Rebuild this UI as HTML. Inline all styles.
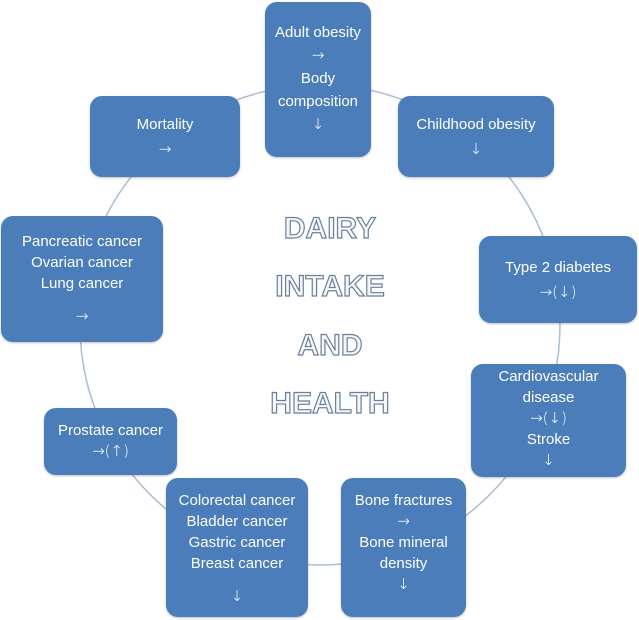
<!DOCTYPE html>
<html><head><style>
body{margin:0;width:639px;height:620px;background:#fff;position:relative;overflow:hidden;font-family:"Liberation Sans",Arial,sans-serif}
.b{position:absolute;background:#4a7dba;border-radius:12px;color:#fff;font-size:15px;line-height:21px;text-align:center;box-sizing:border-box;box-shadow:0 1px 2px rgba(0,0,0,.25)}
.a{font-family:"DejaVu Sans",sans-serif;font-size:15px;font-weight:300}
.t{position:absolute;left:230px;width:200px;text-align:center;font-size:30px;font-weight:bold;color:#f4f7fb;-webkit-text-stroke:1.2px #6c7f98}
</style></head><body>
<svg width="639" height="620" style="position:absolute;left:0;top:0"><circle cx="320" cy="325" r="240" fill="none" stroke="#a9bdd4" stroke-width="1.5"/></svg>
<div class="b" style="left:265px;top:2px;width:106px;height:155px;padding-top:19px;line-height:23px">Adult obesity<br><span class="a">→</span><br>Body<br><span style="line-height:19px">composition</span><br><span class="a">↓</span></div>
<div class="b" style="left:398px;top:96px;width:156px;height:81px;padding-top:17px;line-height:24px">Childhood obesity<br><span class="a">↓</span></div>
<div class="b" style="left:90px;top:96px;width:150px;height:81px;padding-top:17px;line-height:24px">Mortality<br><span class="a">→</span></div>
<div class="b" style="left:479px;top:236px;width:158px;height:87px;padding-top:20px;line-height:24px">Type 2 diabetes<br><span class="a">→(↓)</span></div>
<div class="b" style="left:1px;top:216px;width:162px;height:126px;padding-top:15px">Pancreatic cancer<br>Ovarian cancer<br>Lung cancer<br><div style="margin-top:12px" class="a">→</div></div>
<div class="b" style="left:471px;top:364px;width:155px;height:113px;padding-top:2px">Cardiovascular<br>disease<br><span class="a">→(↓)</span><br>Stroke<br><span class="a">↓</span></div>
<div class="b" style="left:44px;top:408px;width:133px;height:67px;padding-top:12px">Prostate cancer<br><span class="a">→(↑)</span></div>
<div class="b" style="left:166px;top:478px;width:142px;height:139px;padding-top:12px">Colorectal cancer<br>Bladder cancer<br>Gastric cancer<br>Breast cancer<br><div style="margin-top:12px" class="a">↓</div></div>
<div class="b" style="left:341px;top:478px;width:125px;height:139px;padding-top:12px">Bone fractures<br><span class="a">→</span><br>Bone mineral<br>density<br><span class="a">↓</span></div>
<div class="t" style="top:212px">DAIRY</div>
<div class="t" style="top:270px">INTAKE</div>
<div class="t" style="top:329px">AND</div>
<div class="t" style="top:387px">HEALTH</div>
</body></html>
